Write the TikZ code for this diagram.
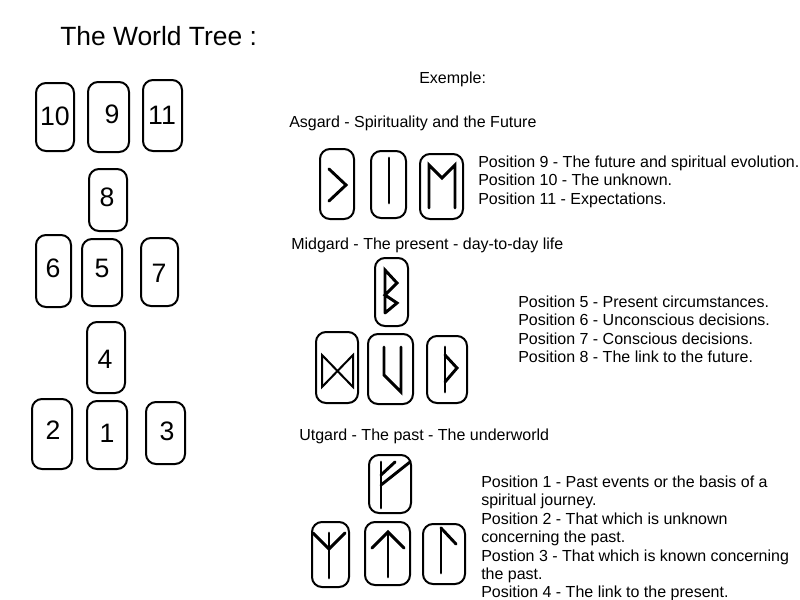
\documentclass[tikz,border=0pt]{standalone}
\usepackage{fontspec}
\setmainfont{Liberation Sans}
\tikzset{
  card/.style={draw=black,line width=1.5pt,rounded corners=7.5pt},
  rune/.style={draw=black,line width=2.2pt,line cap=round,line join=miter},
  num/.style={font=\fontsize{20}{24}\selectfont,inner sep=0pt,text=black},
  txt/.style={font=\fontsize{12}{14}\selectfont,inner sep=0pt,anchor=base west,text=black},
  ttl/.style={font=\fontsize{19.8}{24}\selectfont,inner sep=0pt,anchor=base west,text=black}
}
\begin{document}
\begin{tikzpicture}[x=0.75pt,y=-0.75pt]
\useasboundingbox (0,0) rectangle (800,600);
\fill[white] (0,0) rectangle (800,600);
\node[ttl] (title) at (60,45) {The World Tree :};
% left cards
\draw[card] (36,83) rectangle (74,151);
\node[num] (n10) at (55,116) {10};
\draw[card] (88,82) rectangle (129,152);
\node[num] (n9) at (112,114) {9};
\draw[card] (143,80) rectangle (182,151);
\node[num] (n11) at (162,115) {11};
\draw[card] (89,169) rectangle (127,231);
\node[num] (n8) at (107,197) {8};
\draw[card] (36,235) rectangle (71,307);
\node[num] (n6) at (53,268) {6};
\draw[card] (82,239) rectangle (122,306);
\node[num] (n5) at (102,268) {5};
\draw[card] (141,238) rectangle (178,306);
\node[num] (n7) at (159,273) {7};
\draw[card] (87,322) rectangle (125,393);
\node[num] (n4) at (105,359) {4};
\draw[card] (32,399) rectangle (72,469);
\node[num] (n2) at (53,430) {2};
\draw[card] (87,401) rectangle (127,469);
\node[num] (n1) at (107,433) {1};
\draw[card] (146,402) rectangle (185,464);
\node[num] (n3) at (167,431) {3};
% texts
\node[txt] (ex) at (419,83) {Exemple:};
\node[txt] (asg) at (289,127) {Asgard - Spirituality and the Future};
\node[txt] (p9) at (478,167) {Position 9 - The future and spiritual evolution.};
\node[txt] (p10) at (478,185) {Position 10 - The unknown.};
\node[txt] (p11) at (478,204) {Position 11 - Expectations.};
\node[txt] (mid) at (291,249) {Midgard - The present - day-to-day life};
\node[txt] (p5) at (518,307) {Position 5 - Present circumstances.};
\node[txt] (p6) at (518,325) {Position 6 - Unconscious decisions.};
\node[txt] (p7) at (518,344) {Position 7 - Conscious decisions.};
\node[txt] (p8) at (518,362) {Position 8 - The link to the future.};
\node[txt] (utg) at (299,440) {Utgard - The past - The underworld};
\node[txt] (p1) at (481,487) {Position 1 - Past events or the basis of a};
\node[txt] (p1b) at (481,505) {spiritual journey.};
\node[txt] (p2) at (481,524) {Position 2 - That which is unknown};
\node[txt] (p2b) at (481,542) {concerning the past.};
\node[txt] (p3) at (481,561) {Postion 3 - That which is known concerning};
\node[txt] (p3b) at (481,579) {the past.};
\node[txt] (p4) at (481,597) {Position 4 - The link to the present.};
% rune cards
\draw[card] (320,149) rectangle (354,219);
\draw[rune] (329,169) -- (346,185) -- (329,201);
\draw[card] (371,151) rectangle (406,218);
\draw[rune] (389,158) -- (389,203);
\draw[card] (420,154) rectangle (463,219);
\draw[rune] (429,208) -- (429,165) -- (442,178) -- (455,165) -- (455,208);
\draw[card] (375,258) rectangle (408,326);
\draw[rune] (385,313) -- (385,270) -- (397,283) -- (385,295) -- (397,303) -- (385,313);
\draw[card] (316,332) rectangle (358,403);
\draw[rune,line width=1.5pt] (322,355) -- (322,387) -- (353,355) -- (353,387) -- cycle;
\draw[card] (368,334) rectangle (413,404);
\draw[rune] (384,347) -- (384,375) -- (401,392) -- (401,347);
\draw[card] (427,336) rectangle (467,403);
\draw[rune] (445,347) -- (445,392);
\draw[rune] (445,355) -- (457,368) -- (445,382);
\draw[card] (369,455) rectangle (411,513);
\draw[rune] (381,462) -- (381,508);
\draw[rune] (381,475) -- (395,462);
\draw[rune] (381,485) -- (410,462);
\draw[card] (312,522) rectangle (349,587);
\draw[rune] (329,533) -- (329,578);
\draw[rune] (313,533) -- (329,549) -- (345,533);
\draw[card] (365,522) rectangle (410,585);
\draw[rune] (388,532) -- (388,577);
\draw[rune] (372,548) -- (388,532) -- (404,548);
\draw[card] (423,524) rectangle (465,584);
\draw[rune] (441,528) -- (441,573);
\draw[rune] (441,528) -- (456,544);
\end{tikzpicture}
\end{document}
